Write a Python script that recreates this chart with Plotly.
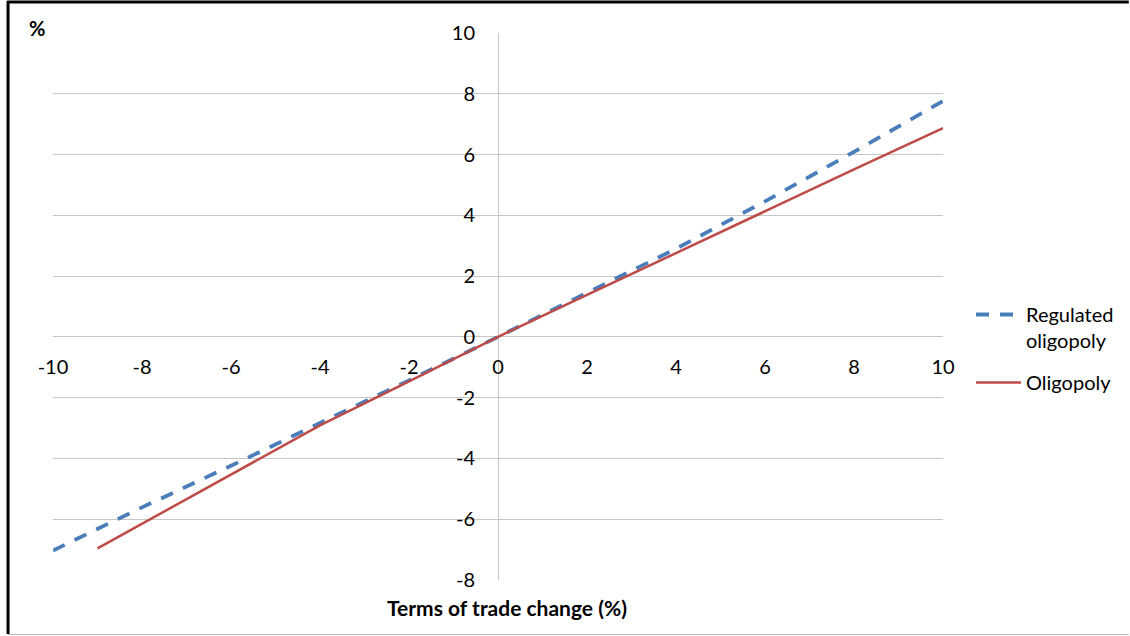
import plotly.graph_objects as go

# Data
x_regulated = [-10, -8, -6, -4, -2, 0, 2, 4, 6, 8, 10]
y_regulated = [-7.03, -5.61, -4.24, -2.84, -1.43, 0, 1.46, 2.90, 4.46, 6.09, 7.76]
x_oligopoly = [-9, -8, -6, -4, -2, 0, 2, 4, 6, 8, 10]
y_oligopoly = [-6.96, -6.15, -4.52, -2.91, -1.46, 0, 1.38, 2.76, 4.14, 5.51, 6.87]
x_ticks = list(range(-10, 11, 2))
y_ticks = list(range(-8, 11, 2))

W, H = 1130, 636
L, R, T, B = 53, 186, 33, 56
PW, PH = W - L - R, H - T - B

def px(xp):
    return (xp - L) / PW

def py(yp):
    return (H - B - yp) / PH

FONT = "Lato"
FS = 20
fig = go.Figure()
fig.add_trace(go.Scatter(
    x=x_regulated, y=y_regulated, mode="lines",
    name="Regulated<br>oligopoly", legendgroup="reg",
    line=dict(color="#4A7EBB", width=3.8, dash="13px,11px"),
))
fig.add_trace(go.Scatter(
    x=x_oligopoly, y=y_oligopoly, mode="lines",
    name="Oligopoly", legendgroup="olig",
    line=dict(color="#BE4B48", width=2.5),
))

grid = "#C6C6C6"
fig.update_layout(
    width=W, height=H,
    margin=dict(l=L, r=R, t=T, b=B),
    paper_bgcolor="white", plot_bgcolor="white",
    font=dict(family=FONT, size=FS, color="#000000"),
    showlegend=True,
    legend=dict(
        x=px(971), y=py(295), xanchor="left", yanchor="top",
        valign="top", itemwidth=45, tracegroupgap=13,
        font=dict(family=FONT, size=FS, color="#000000"),
        bgcolor="rgba(0,0,0,0)",
    ),
    xaxis=dict(
        range=[-10, 10], tickvals=x_ticks, ticktext=[str(v) for v in x_ticks],
        showgrid=False, zeroline=True, zerolinecolor=grid, zerolinewidth=1,
        showline=False, ticks="", anchor="free", position=8 / 18,
        ticklabelstandoff=16, fixedrange=True,
    ),
    yaxis=dict(
        range=[-8, 10], tickvals=y_ticks, ticktext=[str(v) for v in y_ticks],
        showgrid=True, gridcolor=grid, gridwidth=1,
        zeroline=True, zerolinecolor=grid, zerolinewidth=1,
        showline=False, ticks="", anchor="free", position=0.5,
        ticklabelstandoff=23, fixedrange=True,
    ),
    annotations=[
        dict(text="<b>Terms of trade change (%)</b>", xref="paper", yref="paper",
             x=px(508), y=py(607), xanchor="center", yanchor="middle",
             showarrow=False, font=dict(family=FONT, size=21, color="#000000")),
        dict(text="<b>%</b>", xref="paper", yref="paper",
             x=px(37), y=py(28), xanchor="center", yanchor="middle",
             showarrow=False, font=dict(family=FONT, size=FS, color="#000000")),
    ],
    shapes=[
        dict(type="line", xref="paper", yref="paper", x0=px(7), x1=px(1130),
             y0=py(2), y1=py(2), line=dict(color="#000000", width=3)),
        dict(type="line", xref="paper", yref="paper", x0=px(8), x1=px(8),
             y0=py(1), y1=py(634), line=dict(color="#000000", width=3)),
        dict(type="line", xref="paper", yref="paper", x0=px(8), x1=px(1130),
             y0=py(634.5), y1=py(634.5), line=dict(color="#BBBBBB", width=1)),
    ],
)

fig.write_html(
    "out.html",
    config={"displayModeBar": False},
    post_script="document.body.style.margin='0';document.body.style.overflow='hidden';",
)
